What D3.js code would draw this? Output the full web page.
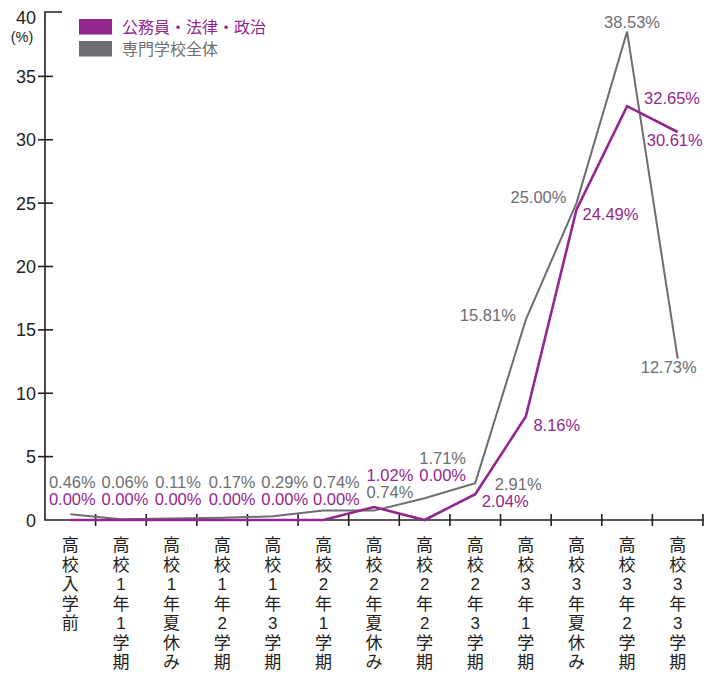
<!DOCTYPE html>
<html><head><meta charset="utf-8">
<script src="https://cdn.jsdelivr.net/npm/d3@7"></script>
<style>body{margin:0;background:#fff}svg{display:block}</style>
</head><body>
<svg id="c" width="712" height="675"></svg>
<script>
const categories = ["高校入学前","高校1年1学期","高校1年夏休み","高校1年2学期","高校1年3学期","高校2年1学期","高校2年夏休み","高校2年2学期","高校2年3学期","高校3年1学期","高校3年夏休み","高校3年2学期","高校3年3学期"];
const seriesNames = ["公務員・法律・政治","専門学校全体"];
const koumuin = [0.00,0.00,0.00,0.00,0.00,0.00,1.02,0.00,2.04,8.16,24.49,32.65,30.61];
const zentai  = [0.46,0.06,0.11,0.17,0.29,0.74,0.74,1.71,2.91,15.81,25.00,38.53,12.73];
const yTicks = [0,5,10,15,20,25,30,35,40];

// label offsets (layout only) relative to each point: [dx, dy]
const zentaiLabelOff = [[2,-26],[4,-31],[6.5,-31],[10,-30],[12,-28],[13,-23],[16,-13],[18,-34.5],[43,7],[-38,1],[-38,0],[5,-4],[-9,14]];
const koumuinLabelOff = [[2,-15],[4,-15],[6.5,-15],[10,-15],[12,-15],[13,-15],[16,-26],[18,-39],[30,13],[31,14],[34,10],[45,-2],[-3,14]];

const PURPLE = "#93278f", GRAY = "#6d6e71", INK = "#231f20";
const FONT = "'Liberation Sans', Arial, 'Noto Sans CJK JP', sans-serif";
const svg = d3.select("#c");

const x = d3.scaleBand().domain(categories).range([45, 703]).padding(0);
const y = d3.scaleLinear().domain([0, 40]).range([520, 13]);
const cx = c => x(c) + x.bandwidth()/2;

// axes
const g = svg.append("g").attr("stroke", INK).attr("stroke-width", 1.6).attr("fill","none");
g.append("path").attr("d", `M${62},${y(40)-1}H45V${y(0)}H703`);
yTicks.filter(t => t > 0 && t < 40).forEach(t => {
  g.append("line").attr("x1", 38).attr("x2", 53).attr("y1", y(t)).attr("y2", y(t));
});
categories.forEach((c,i) => {
  if (i === 0) return;
  g.append("line").attr("x1", x(c)).attr("x2", x(c)).attr("y1", 514).attr("y2", 526);
});
g.append("line").attr("x1", 703).attr("x2", 703).attr("y1", 514).attr("y2", 526);

// y tick labels
svg.append("g").selectAll("text").data(yTicks).join("text")
  .attr("x", 36).attr("y", d => d === 40 ? 24 : y(d) + 6.5)
  .attr("text-anchor", "end").attr("font-family", FONT).attr("font-size", 18)
  .attr("fill", INK).text(d => d);
svg.append("text").attr("x", 22).attr("y", 42).attr("text-anchor","middle")
  .attr("font-family", FONT).attr("font-size", 14.5).attr("fill", INK).text("(%)");

// x labels vertical
const xl = svg.append("g");
categories.forEach(c => {
  const t = xl.append("text").attr("font-family", FONT).attr("font-size", 17)
    .attr("fill", INK).attr("text-anchor", "middle");
  Array.from(c).forEach((ch, k) => {
    t.append("tspan").attr("x", cx(c)).attr("y", 551 + k*19.5).text(ch);
  });
});

// lines
const line = d3.line().x((d,i) => cx(categories[i])).y(d => y(d));
svg.append("path").datum(zentai).attr("d", line).attr("fill","none")
  .attr("stroke", GRAY).attr("stroke-width", 2);
svg.append("path").datum(koumuin).attr("d", line).attr("fill","none")
  .attr("stroke", PURPLE).attr("stroke-width", 2.6);

// value labels
function labels(vals, offs, color) {
  svg.append("g").selectAll("text").data(vals).join("text")
    .attr("x", (d,i) => cx(categories[i]) + offs[i][0])
    .attr("y", (d,i) => y(d) + offs[i][1])
    .attr("text-anchor", "middle").attr("font-family", FONT).attr("font-size", 16.5)
    .attr("fill", color).text(d => d.toFixed(2) + "%");
}
labels(zentai, zentaiLabelOff, GRAY);
labels(koumuin, koumuinLabelOff, PURPLE);

// legend
const colors = [PURPLE, GRAY];
const lg = svg.append("g");
seriesNames.forEach((n, i) => {
  lg.append("rect").attr("x", 79).attr("y", 19 + i*22).attr("width", 33).attr("height", 15.5).attr("fill", colors[i]);
  lg.append("text").attr("x", 122).attr("y", 33 + i*22).attr("font-family", FONT)
    .attr("font-size", 16).attr("fill", colors[i]).text(n);
});
</script>
</body></html>
